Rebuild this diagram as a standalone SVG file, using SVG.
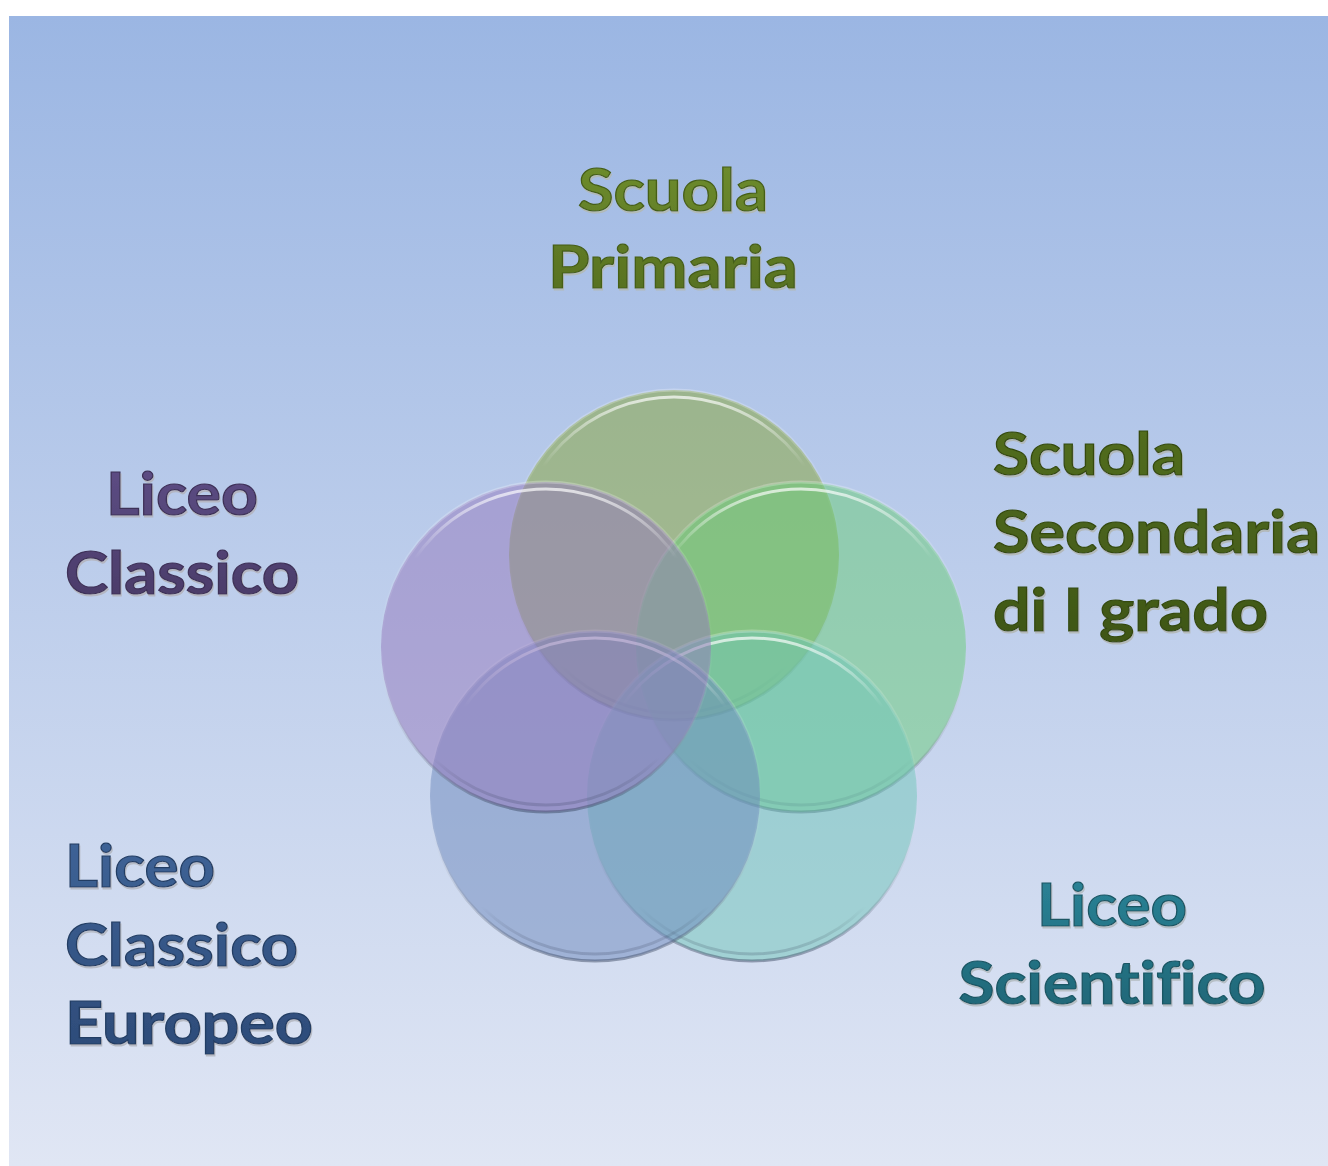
<svg xmlns="http://www.w3.org/2000/svg" width="1328" height="1166" viewBox="0 0 1328 1166">
<style>
.lbl{font-family:"Lato","Open Sans","Liberation Sans",sans-serif;font-weight:bold;font-size:60px;stroke-width:1.2;filter:url(#bevel);font-variant-ligatures:none;font-feature-settings:"liga" 0}
.c{stroke:url(#rim);stroke-width:3;fill-opacity:0.5}
.hl{fill:none;stroke:url(#inner);stroke-width:3}
</style>
<defs>
<linearGradient id="bg" x1="0" y1="0" x2="0" y2="1">
<stop offset="0" stop-color="#9bb6e3"/>
<stop offset="1" stop-color="#e0e6f4"/>
</linearGradient>
<linearGradient id="rim" x1="0" y1="0" x2="0" y2="1">
<stop offset="0" stop-color="#ffffff" stop-opacity="0.25"/>
<stop offset="0.5" stop-color="#ffffff" stop-opacity="0"/>
<stop offset="1" stop-color="#33405a" stop-opacity="0.45"/>
</linearGradient>
<linearGradient id="inner" x1="0" y1="0" x2="0" y2="1">
<stop offset="0" stop-color="#ffffff" stop-opacity="0.7"/>
<stop offset="0.22" stop-color="#ffffff" stop-opacity="0"/>
<stop offset="0.85" stop-color="#000000" stop-opacity="0"/>
<stop offset="1" stop-color="#2a3450" stop-opacity="0.2"/>
</linearGradient>
<linearGradient id="tg1" x1="0" y1="0" x2="0" y2="1">
<stop offset="0" stop-color="#6f8e2e"/><stop offset="1" stop-color="#566f20"/>
</linearGradient>
<linearGradient id="tg2" x1="0" y1="0" x2="0" y2="1">
<stop offset="0" stop-color="#536e20"/><stop offset="1" stop-color="#3f5616"/>
</linearGradient>
<linearGradient id="tg3" x1="0" y1="0" x2="0" y2="1">
<stop offset="0" stop-color="#5e4e86"/><stop offset="1" stop-color="#4a3b68"/>
</linearGradient>
<linearGradient id="tg4" x1="0" y1="0" x2="0" y2="1">
<stop offset="0" stop-color="#3f6498"/><stop offset="1" stop-color="#2d4b78"/>
</linearGradient>
<linearGradient id="tg5" x1="0" y1="0" x2="0" y2="1">
<stop offset="0" stop-color="#2b8498"/><stop offset="1" stop-color="#1f6676"/>
</linearGradient>
<filter id="bevel" x="-10%" y="-20%" width="120%" height="150%">
<feOffset in="SourceGraphic" dx="1" dy="2" result="o"/>
<feColorMatrix in="o" type="matrix" values="0.5 0 0 0 0.42  0 0.5 0 0 0.42  0 0 0.5 0 0.42  0 0 0 0.8 0" result="l"/>
<feMerge><feMergeNode in="l"/><feMergeNode in="SourceGraphic"/></feMerge>
</filter>
</defs>
<rect x="9" y="16" width="1319" height="1150" fill="url(#bg)"/>

<g id="node-scuola-primaria">
<circle class="c" cx="674" cy="555" r="165" fill="rgb(133,163,51)"/>
<circle class="hl" cx="674" cy="555" r="158"/>
<text class="lbl" fill="url(#tg1)" stroke="#455e18" text-anchor="middle"><tspan x="673" y="211" textLength="190" lengthAdjust="spacingAndGlyphs">Scuola</tspan><tspan x="673" y="288" textLength="250" lengthAdjust="spacingAndGlyphs">Primaria</tspan></text>
</g>

<g id="node-scuola-secondaria">
<circle class="c" cx="801" cy="647" r="165" fill="rgb(104,203,117)"/>
<circle class="hl" cx="801" cy="647" r="158"/>
<text class="lbl" fill="url(#tg2)" stroke="#344a10"><tspan x="993" y="475" textLength="192" lengthAdjust="spacingAndGlyphs">Scuola</tspan><tspan x="993" y="553" textLength="327" lengthAdjust="spacingAndGlyphs">Secondaria</tspan><tspan x="993" y="631" textLength="275" lengthAdjust="spacingAndGlyphs">di I grado</tspan></text>
</g>

<g id="node-liceo-scientifico">
<circle class="c" cx="752" cy="796" r="165" fill="rgb(112,197,184)"/>
<circle class="hl" cx="752" cy="796" r="158"/>
<text class="lbl" fill="url(#tg5)" stroke="#1a5664" text-anchor="middle"><tspan x="1112" y="926" textLength="150" lengthAdjust="spacingAndGlyphs">Liceo</tspan><tspan x="1112" y="1004" textLength="307" lengthAdjust="spacingAndGlyphs">Scientifico</tspan></text>
</g>

<g id="node-liceo-classico-europeo">
<circle class="c" cx="595" cy="796" r="165" fill="rgb(108,135,188)"/>
<circle class="hl" cx="595" cy="796" r="158"/>
<text class="lbl" fill="url(#tg4)" stroke="#243e64"><tspan x="65" y="887" textLength="150" lengthAdjust="spacingAndGlyphs">Liceo</tspan><tspan x="65" y="966" textLength="233" lengthAdjust="spacingAndGlyphs">Classico</tspan><tspan x="65" y="1044" textLength="248" lengthAdjust="spacingAndGlyphs">Europeo</tspan></text>
</g>

<g id="node-liceo-classico">
<circle class="c" cx="546" cy="647" r="165" fill="rgb(147,120,188)"/>
<circle class="hl" cx="546" cy="647" r="158"/>
<text class="lbl" fill="url(#tg3)" stroke="#3e3058" text-anchor="middle"><tspan x="182" y="515" textLength="152" lengthAdjust="spacingAndGlyphs">Liceo</tspan><tspan x="182" y="594" textLength="234" lengthAdjust="spacingAndGlyphs">Classico</tspan></text>
</g>

<g id="connectors"></g>
</svg>
